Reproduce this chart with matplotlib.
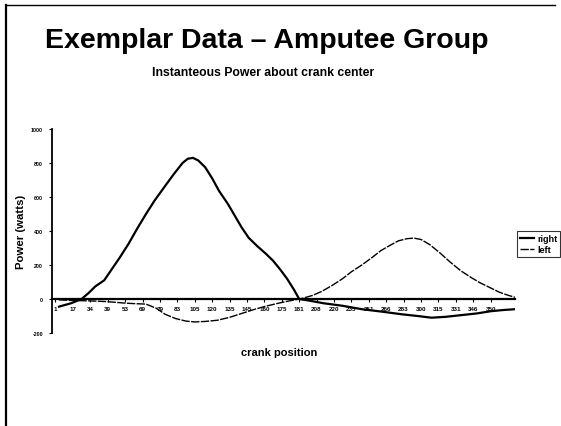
import numpy as np
import matplotlib
matplotlib.use("Agg")
import matplotlib.pyplot as plt
from matplotlib.lines import Line2D

plt.rcParams['font.family'] = ['Liberation Sans', 'DejaVu Sans']

# crank position tick labels (category axis)
tick_labels = ['1', '17', '34', '39', '53', '69', '79', '83', '105', '120', '135', '145',
               '160', '175', '181', '208', '220', '235', '251', '266', '283', '300',
               '315', '331', '346', '350']

# curve samples, x in category units along the crank axis
right_x = [0.2, 0.9, 1.5, 1.9, 2.3, 2.8, 3.2, 3.7, 4.2, 4.7, 5.2, 5.7, 6.3, 6.8, 7.3,
           7.6, 7.9, 8.2, 8.6, 9.0, 9.4, 9.9, 10.3, 10.7, 11.1, 11.6, 12.1, 12.5,
           12.9, 13.3, 13.7, 14.0, 14.6, 15.4, 16.5, 17.6, 18.8, 19.9, 20.8, 21.6,
           22.4, 23.3, 24.2, 25.0, 25.7, 26.4]
right_w = [-45, -25, 0, 35, 75, 110, 170, 245, 325, 415, 500, 580, 665, 735, 800,
           825, 830, 815, 775, 710, 635, 560, 490, 420, 360, 310, 265, 225,
           175, 120, 55, 0, -10, -25, -40, -60, -75, -90, -100, -110,
           -105, -95, -85, -72, -65, -60]

left_x = [0.2, 0.8, 1.5, 2.2, 2.9, 3.5, 4.1, 4.7, 5.2, 5.8, 6.3, 6.9, 7.5, 8.0,
          8.6, 9.3, 10.0, 10.7, 11.4, 12.1, 12.8, 13.4, 14.0, 14.4, 14.8, 15.3,
          15.9, 16.5, 17.0, 17.6, 18.2, 18.7, 19.3, 19.7, 20.2, 20.6, 21.0, 21.5,
          22.1, 22.7, 23.3, 23.9, 24.4, 25.0, 25.5, 26.0, 26.4]
left_w = [-5, -8, -10, -12, -15, -20, -25, -28, -30, -55, -90, -115, -130, -135,
          -132, -125, -108, -85, -62, -42, -25, -12, 0, 10, 22, 45,
          80, 120, 160, 200, 245, 285, 320, 342, 355, 358, 350, 320,
          270, 215, 165, 125, 95, 65, 40, 22, 10]

y_ticks = [-200, 0, 200, 400, 600, 800, 1000]

fig = plt.figure(figsize=(5.61, 4.27), dpi=100)

# scanned slide frame
fig.add_artist(Line2D([0.011, 0.011], [0.0, 0.985], color='black', lw=1.6))
fig.add_artist(Line2D([0.011, 0.99], [0.985, 0.985], color='black', lw=1.0))

fig.text(0.476, 0.905, 'Exemplar Data \u2013 Amputee Group', ha='center', va='center',
         fontsize=20.5, fontweight='bold')
fig.text(0.469, 0.828, 'Instanteous Power about crank center', ha='center', va='center',
         fontsize=8.8, fontweight='bold')

ax = fig.add_axes([0.0927, 0.2178, 0.8253, 0.4778])
ax.plot(right_x, right_w, color='black', lw=1.6, label='right')
ax.plot(left_x, left_w, color='black', lw=1.0, ls=(0, (6, 1)), label='left')

ax.set_xlim(-0.2, 26.4)
ax.set_ylim(-200, 1000)
ax.spines['top'].set_visible(False)
ax.spines['right'].set_visible(False)
ax.spines['bottom'].set_position(('data', 0))
ax.spines['bottom'].set_linewidth(1.6)
ax.spines['left'].set_linewidth(1.3)

ax.set_xticks(range(len(tick_labels)))
ax.set_xticklabels(tick_labels, fontsize=4.5, fontweight='bold')
ax.tick_params(axis='x', length=2, width=0.8, pad=3)
ax.set_yticks(y_ticks)
ax.set_yticklabels([str(v) for v in y_ticks], fontsize=3.8, fontweight='bold')
ax.tick_params(axis='y', length=2.5, width=0.8, pad=4)

fig.text(0.037, 0.457, 'Power (watts)', rotation=90, ha='center', va='center',
         fontsize=8.2, fontweight='bold')
fig.text(0.497, 0.173, 'crank position', ha='center', va='center',
         fontsize=8, fontweight='bold')

leg = ax.legend(loc='center left', bbox_to_anchor=(0.995, 0.436), fontsize=6.5,
                frameon=True, fancybox=False, edgecolor='black', handlelength=1.6,
                borderpad=0.3, labelspacing=0.3, handletextpad=0.3)
leg.get_frame().set_linewidth(0.8)
for t in leg.get_texts():
    t.set_fontweight('bold')

fig.savefig('out.png', dpi=100)
